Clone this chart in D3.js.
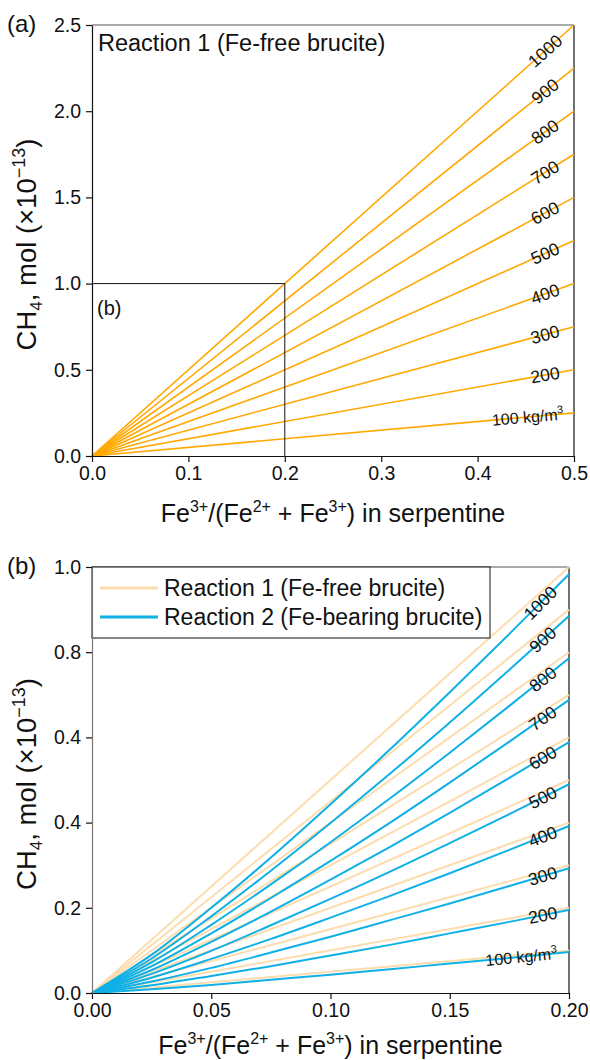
<!DOCTYPE html>
<html>
<head>
<meta charset="utf-8">
<script src="https://cdn.jsdelivr.net/npm/d3@7"></script>
<style>
  body { margin: 0; background: #fff; }
  svg { display: block; font-family: "Liberation Sans", Arial, sans-serif; }
</style>
</head>
<body>
<svg id="chart" width="590" height="1060"></svg>
<script>
'use strict';

// density of each line, kg/m3
const densities = [100, 200, 300, 400, 500, 600, 700, 800, 900, 1000];

// (a) reaction 1, CH4 at Fe3+ ratio 0.5
const endA = [0.25, 0.5, 0.75, 1.0, 1.25, 1.5, 1.75, 2.0, 2.25, 2.5];

// (b) reaction 1, CH4 at Fe3+ ratio 0.2
const endB1 = [0.1, 0.2, 0.3, 0.4, 0.5, 0.6, 0.7, 0.8, 0.9, 1.0];

// (b) reaction 2
const xB2 = [0, 0.025, 0.05, 0.075, 0.1, 0.125, 0.15, 0.175, 0.2];
const curvesB2 = [
    [0, 0.009, 0.019, 0.031, 0.043, 0.056, 0.069, 0.082, 0.096],
    [0, 0.018, 0.040, 0.063, 0.088, 0.113, 0.140, 0.167, 0.195],
    [0, 0.027, 0.059, 0.095, 0.132, 0.171, 0.210, 0.251, 0.293],
    [0, 0.036, 0.080, 0.127, 0.177, 0.228, 0.281, 0.336, 0.392],
    [0, 0.045, 0.099, 0.159, 0.221, 0.285, 0.352, 0.420, 0.490],
    [0, 0.054, 0.120, 0.191, 0.266, 0.343, 0.423, 0.505, 0.589],
    [0, 0.063, 0.140, 0.223, 0.310, 0.400, 0.494, 0.590, 0.688],
    [0, 0.072, 0.160, 0.255, 0.354, 0.457, 0.564, 0.674, 0.786],
    [0, 0.081, 0.180, 0.287, 0.399, 0.515, 0.635, 0.759, 0.885],
    [0, 0.090, 0.200, 0.318, 0.443, 0.572, 0.706, 0.843, 0.983]
];

const ticksAX = [0, 0.1, 0.2, 0.3, 0.4, 0.5];
const ticksAY = [0, 0.5, 1.0, 1.5, 2.0, 2.5];
const ticksBX = [0, 0.05, 0.10, 0.15, 0.20];
const ticksBY = [0, 0.2, 0.4, 0.6, 0.8, 1.0];
const tickLabelsBY = ['0.0', '0.2', '0.4', '0.4', '0.8', '1.0'];

// where the density labels sit along x
const labelXA = [0.452, 0.47, 0.47, 0.47, 0.47, 0.47, 0.47, 0.47, 0.47, 0.47];
const labelXB = [0.180, 0.189, 0.189, 0.189, 0.189, 0.189, 0.189, 0.189, 0.189, 0.188];

const ORANGE = '#ffa800';
const LIGHT_ORANGE = '#fddcae';
const BLUE = '#0fb0e6';

const svg = d3.select('#chart');

function yAt(points, x) {
    for (let i = 1; i < points.length; i++) {
        if (points[i][0] >= x) {
            let [x0, y0] = points[i - 1];
            let [x1, y1] = points[i];
            return y0 + (y1 - y0) * (x - x0) / (x1 - x0);
        }
    }
    return points[points.length - 1][1];
}

function drawPanel(opt) {
    let g = svg.append('g');
    let x = d3.scaleLinear().domain(opt.xDomain).range([opt.left, opt.right]);
    let y = d3.scaleLinear().domain(opt.yDomain).range([opt.bottom, opt.top]);

    // frame (top, right)
    g.append('line')
        .attr('x1', opt.left).attr('x2', opt.right)
        .attr('y1', opt.top).attr('y2', opt.top)
        .attr('stroke', '#555').attr('stroke-width', 1);
    g.append('line')
        .attr('x1', opt.right).attr('x2', opt.right)
        .attr('y1', opt.top).attr('y2', opt.bottom)
        .attr('stroke', '#111').attr('stroke-width', 1.2);

    let line = d3.line().x((d) => x(d[0])).y((d) => y(d[1]));
    let curve = d3.line().x((d) => x(d[0])).y((d) => y(d[1])).curve(d3.curveMonotoneX);

    opt.series.forEach((s) => {
        g.append('g').selectAll('path')
            .data(s.data)
            .enter()
            .append('path')
            .attr('d', (d) => (s.smooth ? curve : line)(d))
            .attr('fill', 'none')
            .attr('stroke', s.color)
            .attr('stroke-width', s.width);
    });

    if (opt.extra) opt.extra(g, x, y);

    // density labels, turned along their line
    let lab = opt.labelSeries;
    densities.forEach((dens, i) => {
        let lx = opt.labelX[i];
        let pts = lab[i];
        let ly = yAt(pts, lx);
        let dx = 0.004 * (opt.xDomain[1] - opt.xDomain[0]);
        let a = Math.atan2(y(yAt(pts, lx + dx)) - y(yAt(pts, lx - dx)), x(lx + dx) - x(lx - dx)) * 180 / Math.PI;
        let t = g.append('text')
            .attr('transform', `translate(${x(lx)},${y(ly)}) rotate(${a})`)
            .attr('text-anchor', 'middle')
            .attr('dy', '0.35em')
            .attr('font-size', 17.5)
            .attr('fill', '#111');
        if (i === 0) {
            t.attr('font-size', 16).text(dens + ' kg/m');
            t.append('tspan').attr('font-size', 11).attr('dy', '-0.6em').text('3');
        } else {
            t.text(dens);
        }
    });

    // axes
    let ax = g.append('g')
        .attr('transform', `translate(0,${opt.bottom})`)
        .call(d3.axisBottom(x).tickValues(opt.xTicks).tickFormat(opt.xFormat).tickSize(6).tickSizeOuter(0).tickPadding(4));
    let ay = g.append('g')
        .attr('transform', `translate(${opt.left},0)`)
        .call(d3.axisLeft(y).tickValues(opt.yTicks).tickFormat(opt.yFormat).tickSize(6).tickSizeOuter(0).tickPadding(5));
    [ax, ay].forEach((a) => {
        a.selectAll('path, line').attr('stroke', '#111').attr('stroke-width', 1.2);
        a.selectAll('text').attr('font-size', 19.5).attr('fill', '#111');
    });
    ay.select('path').attr('stroke', opt.leftAxisColor);

    // axis titles
    let xt = g.append('text')
        .attr('x', (opt.left + opt.right) / 2)
        .attr('y', opt.bottom + opt.titleGap)
        .attr('text-anchor', 'middle')
        .attr('font-size', 25)
        .attr('fill', '#111');
    xt.append('tspan').text('Fe');
    xt.append('tspan').attr('font-size', 16).attr('dy', -10).text('3+');
    xt.append('tspan').attr('dy', 10).text('/(Fe');
    xt.append('tspan').attr('font-size', 16).attr('dy', -10).text('2+');
    xt.append('tspan').attr('dy', 10).text(' + Fe');
    xt.append('tspan').attr('font-size', 16).attr('dy', -10).text('3+');
    xt.append('tspan').attr('dy', 10).text(') in serpentine');

    let yt = g.append('text')
        .attr('transform', `translate(36,${(opt.top + opt.bottom) / 2 + 4}) rotate(-90)`)
        .attr('text-anchor', 'middle')
        .attr('font-size', 27.5)
        .attr('fill', '#111');
    yt.append('tspan').text('CH');
    yt.append('tspan').attr('font-size', 17).attr('dy', 6).text('4');
    yt.append('tspan').attr('dy', -6).text(', mol (×10');
    yt.append('tspan').attr('font-size', 18).attr('dy', -11).text('−13');
    yt.append('tspan').attr('dy', 11).text(')');

    g.append('text')
        .attr('x', 7).attr('y', opt.top + 7)
        .attr('font-size', 24).attr('fill', '#111')
        .text(opt.panel);
}

// panel (a)
let seriesA = endA.map((v) => [[0, 0], [0.5, v]]);
drawPanel({
    panel: '(a)',
    left: 92, right: 574, top: 25, bottom: 456,
    titleGap: 66,
    xDomain: [0, 0.5], yDomain: [0, 2.5],
    xTicks: ticksAX, yTicks: ticksAY,
    xFormat: d3.format('.1f'), yFormat: d3.format('.1f'),
    leftAxisColor: '#111',
    series: [{ data: seriesA, color: ORANGE, width: 1.6 }],
    labelSeries: seriesA, labelX: labelXA,
    extra: function(g, x, y) {
        g.append('path')
            .attr('d', `M${x(0)},${y(1.0)}H${x(0.2)}V${y(0)}`)
            .attr('fill', 'none').attr('stroke', '#111').attr('stroke-width', 1);
        g.append('text')
            .attr('x', x(0) + 5).attr('y', y(1.0) + 31)
            .attr('font-size', 20).attr('fill', '#111')
            .text('(b)');
        g.append('text')
            .attr('x', x(0) + 6).attr('y', y(2.5) + 26)
            .attr('font-size', 23.5).attr('fill', '#111')
            .text('Reaction 1 (Fe-free brucite)');
    }
});

// panel (b)
let seriesB1 = endB1.map((v) => [[0, 0], [0.2, v]]);
let seriesB2 = curvesB2.map((c) => c.map((v, j) => [xB2[j], v]));
drawPanel({
    panel: '(b)',
    left: 92, right: 569, top: 567, bottom: 993,
    titleGap: 61,
    xDomain: [0, 0.2], yDomain: [0, 1.0],
    xTicks: ticksBX, yTicks: ticksBY,
    xFormat: d3.format('.2f'), yFormat: (d, i) => tickLabelsBY[i],
    leftAxisColor: '#777',
    series: [
        { data: seriesB1, color: LIGHT_ORANGE, width: 2 },
        { data: seriesB2, color: BLUE, width: 2, smooth: true }
    ],
    labelSeries: seriesB2, labelX: labelXB,
    extra: function(g, x, y) {
        let leg = g.append('g');
        leg.append('rect')
            .attr('x', x(0)).attr('y', y(1.0))
            .attr('width', 398).attr('height', 71)
            .attr('fill', '#fff').attr('stroke', '#111').attr('stroke-width', 1);
        [['Reaction 1 (Fe-free brucite)', LIGHT_ORANGE], ['Reaction 2 (Fe-bearing brucite)', BLUE]].forEach((d, i) => {
            let ly = y(1.0) + 21 + i * 29;
            leg.append('line')
                .attr('x1', x(0) + 8).attr('x2', x(0) + 66)
                .attr('y1', ly).attr('y2', ly)
                .attr('stroke', d[1]).attr('stroke-width', 3);
            leg.append('text')
                .attr('x', x(0) + 72).attr('y', ly).attr('dy', '0.35em')
                .attr('font-size', 23).attr('fill', '#111')
                .text(d[0]);
        });
    }
});
</script>
</body>
</html>
